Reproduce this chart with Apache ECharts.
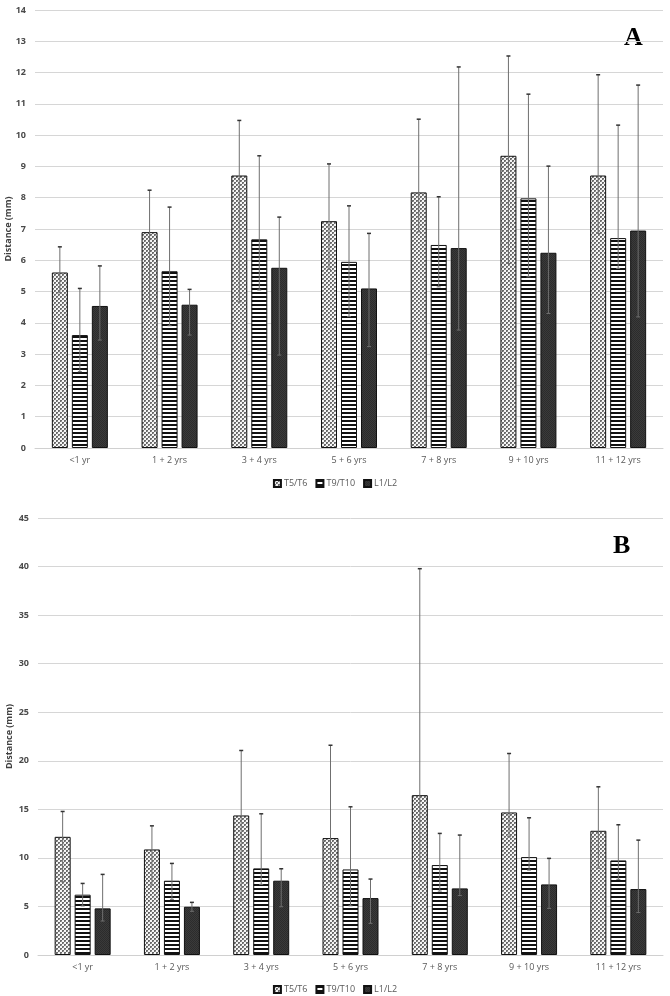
<!DOCTYPE html>
<html>
<head>
<meta charset="utf-8">
<script src="https://cdn.jsdelivr.net/npm/echarts@6/dist/echarts.min.js"></script>
<style>
html,body{margin:0;padding:0;background:#fff;}
#chart{width:670px;height:996px;}
</style>
</head>
<body>
<div id="chart"></div>
<script>
// ---- Data ----
const categories = ['<1 yr', '1 + 2 yrs', '3 + 4 yrs', '5 + 6 yrs', '7 + 8 yrs', '9 + 10 yrs', '11 + 12 yrs'];
const seriesNames = ['T5/T6', 'T9/T10', 'L1/L2'];

// Panel A
const A_T5 = [5.61, 6.90, 8.71, 7.25, 8.17, 9.34, 8.71];
const A_T9 = [3.61, 5.65, 6.67, 5.95, 6.49, 7.98, 6.71];
const A_L1 = [4.54, 4.58, 5.76, 5.10, 6.39, 6.24, 6.95];
const A_T5_hi = [6.43, 8.24, 10.47, 9.08, 10.51, 12.53, 11.93];
const A_T9_hi = [5.10, 7.70, 9.34, 7.74, 8.03, 11.31, 10.32];
const A_L1_hi = [5.82, 5.07, 7.38, 6.86, 12.18, 9.01, 11.60];
const A_T5_lo = [4.96, 4.57, 4.67, 5.71, 6.91, 5.90, 6.86];
const A_T9_lo = [2.44, 3.91, 5.05, 4.20, 5.15, 5.47, 5.74];
const A_L1_lo = [3.45, 3.61, 2.97, 3.24, 3.77, 4.30, 4.19];

// Panel B
const B_T5 = [12.17, 10.87, 14.37, 12.04, 16.46, 14.68, 12.79];
const B_T9 = [6.21, 7.65, 8.92, 8.81, 9.26, 10.08, 9.74];
const B_L1 = [4.80, 4.97, 7.65, 5.86, 6.86, 7.27, 6.79];
const B_T5_hi = [14.78, 13.30, 21.06, 21.60, 39.78, 20.75, 17.32];
const B_T9_hi = [7.37, 9.43, 14.54, 15.26, 12.52, 14.13, 13.41];
const B_L1_hi = [8.30, 5.42, 8.88, 7.82, 12.35, 9.95, 11.83];
const B_T5_lo = [7.54, 7.20, 5.66, 7.54, 8.06, 12.17, 8.94];
const B_T9_lo = [5.05, 5.73, 7.27, 5.07, 6.58, 8.74, 7.79];
const B_L1_lo = [3.50, 4.50, 4.97, 3.26, 6.12, 4.80, 4.37];

const A_ticks = {min: 0, max: 14, interval: 1};
const B_ticks = {min: 0, max: 45, interval: 5};

// ---- Patterns ----
function dotPattern() {
  const c = document.createElement('canvas');
  c.width = 4; c.height = 4;
  const g = c.getContext('2d');
  g.fillStyle = '#f6f6f6'; g.fillRect(0, 0, 4, 4);
  g.fillStyle = '#6a6a6a';
  g.fillRect(0, 0, 2, 2); g.fillRect(2, 2, 2, 2);
  g.fillStyle = '#9a9a9a';
  g.fillRect(1, 1, 1, 1); g.fillRect(3, 3, 1, 1);
  return c;
}
function stripePattern() {
  const c = document.createElement('canvas');
  c.width = 4; c.height = 4;
  const g = c.getContext('2d');
  g.fillStyle = '#ffffff'; g.fillRect(0, 0, 4, 4);
  g.fillStyle = '#111111'; g.fillRect(0, 0, 4, 2);
  return c;
}
function darkPattern() {
  const c = document.createElement('canvas');
  c.width = 2; c.height = 2;
  const g = c.getContext('2d');
  g.fillStyle = '#3a3a3a'; g.fillRect(0, 0, 2, 2);
  g.fillStyle = '#2c2c2c'; g.fillRect(0, 0, 1, 1); g.fillRect(1, 1, 1, 1);
  return c;
}
const fills = [
  {image: dotPattern(), repeat: 'repeat'},
  {image: stripePattern(), repeat: 'repeat'},
  {image: darkPattern(), repeat: 'repeat'}
];

const chart = echarts.init(document.getElementById('chart'), null, {renderer: 'canvas'});

const BAR_W = 16;
const BAR_STEP = 20;

function barSeries(name, data, idx, axisIdx) {
  return {
    name: name,
    type: 'bar',
    xAxisIndex: axisIdx,
    yAxisIndex: axisIdx,
    data: data,
    barWidth: BAR_W,
    barGap: '25%',
    itemStyle: {color: fills[idx], borderColor: '#111', borderWidth: 1},
    emphasis: {disabled: true},
    z: 2
  };
}

function errData(lows, highs) {
  const out = [];
  lows.forEach((lo, s) => {
    lo.forEach((v, i) => out.push([i, s, v, highs[s][i]]));
  });
  return out;
}

function errSeries(data, axisIdx) {
  return {
    type: 'custom',
    xAxisIndex: axisIdx,
    yAxisIndex: axisIdx,
    data: data,
    z: 5,
    silent: true,
    renderItem: function (params, api) {
      const cat = api.value(0), s = api.value(1);
      const x = api.coord([cat, 0])[0] + (s - 1) * BAR_STEP;
      const yl = api.coord([cat, api.value(2)])[1];
      const yh = api.coord([cat, api.value(3)])[1];
      const col = '#6f6f6f';
      return {
        type: 'group',
        children: [
          {type: 'line', shape: {x1: x, y1: yl, x2: x, y2: yh}, style: {stroke: col, lineWidth: 1}},
          {type: 'line', shape: {x1: x - 2, y1: yh, x2: x + 2, y2: yh}, style: {stroke: '#333', lineWidth: 1.5}},
          {type: 'line', shape: {x1: x - 2, y1: yl, x2: x + 2, y2: yl}, style: {stroke: col, lineWidth: 1}}
        ]
      };
    }
  };
}

const labelFont = {fontFamily: 'Open Sans', fontSize: 9, color: '#595959'};

function xAx(gridIndex) {
  return {
    type: 'category', gridIndex: gridIndex, data: categories,
    axisTick: {show: false},
    axisLine: {lineStyle: {color: '#d0d0d0'}},
    axisLabel: Object.assign({margin: 8}, labelFont)
  };
}
function yAx(gridIndex, t, gap) {
  return {
    type: 'value', gridIndex: gridIndex, min: t.min, max: t.max, interval: t.interval,
    name: 'Distance (mm)', nameLocation: 'middle', nameGap: gap, nameRotate: 90,
    nameMoveOverlap: false,
    nameTextStyle: {fontFamily: 'Open Sans', fontSize: 9, fontWeight: 'bold', color: '#404040'},
    axisLine: {show: false}, axisTick: {show: false},
    axisLabel: {fontFamily: 'Open Sans', fontSize: 9, fontWeight: 'bold', color: '#4a4a4a', margin: 9},
    splitLine: {lineStyle: {color: '#d6d6d6', width: 1}}
  };
}

const option = {
  animation: false,
  backgroundColor: '#fff',
  grid: [
    {left: 35, right: 7, top: 10, height: 438, outerBoundsMode: 'none', containLabel: false},
    {left: 38, right: 7, top: 518, height: 437, outerBoundsMode: 'none', containLabel: false}
  ],
  xAxis: [xAx(0), xAx(1)],
  yAxis: [yAx(0, A_ticks, 22), yAx(1, B_ticks, 24)],
  legend: [
    {data: seriesNames, left: 'center', top: 474, itemWidth: 7, itemHeight: 7, itemGap: 8,
     textStyle: {fontFamily: 'Open Sans', fontSize: 9, color: '#595959', padding: [0, 0, 0, -2]}, selectedMode: false, icon: 'rect'},
    {data: seriesNames, left: 'center', top: 980, itemWidth: 7, itemHeight: 7, itemGap: 8,
     textStyle: {fontFamily: 'Open Sans', fontSize: 9, color: '#595959', padding: [0, 0, 0, -2]}, selectedMode: false, icon: 'rect'}
  ],
  series: [
    barSeries('T5/T6', A_T5, 0, 0),
    barSeries('T9/T10', A_T9, 1, 0),
    barSeries('L1/L2', A_L1, 2, 0),
    errSeries(errData([A_T5_lo, A_T9_lo, A_L1_lo], [A_T5_hi, A_T9_hi, A_L1_hi]), 0),
    barSeries('T5/T6', B_T5, 0, 1),
    barSeries('T9/T10', B_T9, 1, 1),
    barSeries('L1/L2', B_L1, 2, 1),
    errSeries(errData([B_T5_lo, B_T9_lo, B_L1_lo], [B_T5_hi, B_T9_hi, B_L1_hi]), 1)
  ],
  graphic: [
    {type: 'text', left: 624, top: 25, style: {text: 'A', font: 'bold 26px "Liberation Serif"', fill: '#000'}},
    {type: 'text', left: 613, top: 533, style: {text: 'B', font: 'bold 26px "Liberation Serif"', fill: '#000'}}
  ]
};
chart.setOption(option);
</script>
</body>
</html>
